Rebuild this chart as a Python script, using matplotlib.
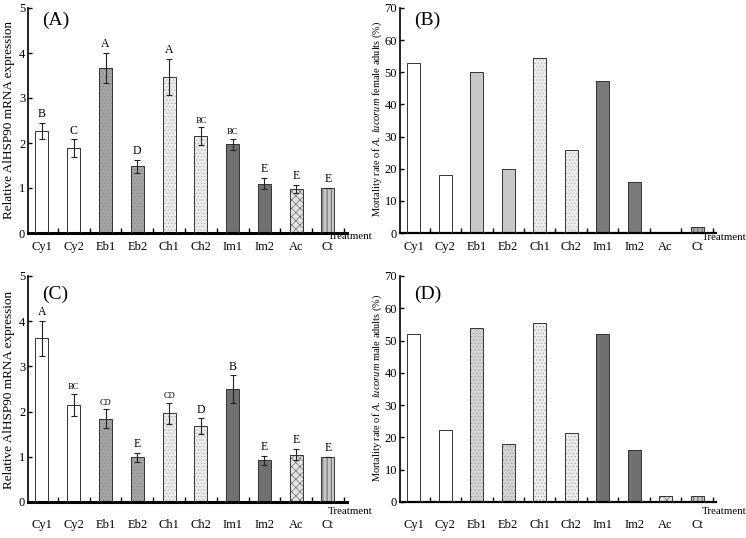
import numpy as np
import matplotlib
matplotlib.use('Agg')
import matplotlib.pyplot as plt

plt.rcParams['font.family'] = ['Liberation Serif', 'DejaVu Serif']
plt.rcParams['mathtext.fontset'] = 'custom'
plt.rcParams['mathtext.rm'] = 'Liberation Serif'
plt.rcParams['mathtext.it'] = 'Liberation Serif:italic'
plt.rcParams['hatch.linewidth'] = 0.5

treat = ['Cy1', 'Cy2', 'Eb1', 'Eb2', 'Ch1', 'Ch2', 'Im1', 'Im2', 'Ac', 'Ct']

# (A) female expression
expA = [2.27, 1.88, 3.67, 1.48, 3.47, 2.15, 1.97, 1.10, 0.98, 1.00]
errA = [0.18, 0.20, 0.34, 0.15, 0.40, 0.20, 0.13, 0.12, 0.09, 0.00]
letA = ['B', 'C', 'A', 'D', 'A', 'BC', 'BC', 'E', 'E', 'E']
# (B) female mortality
mortB = [53.0, 18.0, 50.0, 20.0, 54.5, 25.7, 47.3, 16.0, 0.0, 2.0]
# (C) male expression
expC = [3.62, 2.15, 1.84, 0.99, 1.96, 1.68, 2.50, 0.92, 1.05, 1.00]
errC = [0.38, 0.25, 0.21, 0.10, 0.24, 0.17, 0.30, 0.10, 0.12, 0.00]
letC = ['A', 'BC', 'CD', 'E', 'CD', 'D', 'B', 'E', 'E', 'E']
# (D) male mortality
mortD = [52.0, 22.3, 54.0, 18.0, 55.3, 21.5, 52.0, 16.0, 2.0, 2.0]

# fill colour, hatch, hatch colour
styleA = [('white', '', 'black'), ('white', '', 'black'),
          ('#a4a4a4', '.....', '#8a8a8a'), ('#a4a4a4', '.....', '#8a8a8a'),
          ('#ececec', '.....', '#b0b0b0'), ('#ececec', '.....', '#b0b0b0'),
          ('#707070', '', 'black'), ('#707070', '', 'black'),
          ('#e4e4e4', 'xxxx', '#707070'), ('#c8c8c8', '||||', '#404040')]
styleB = [('white', '', 'black'), ('white', '', 'black'),
          ('#c8c8c8', '', 'black'), ('#c8c8c8', '', 'black'),
          ('#ececec', '.....', '#b8b8b8'), ('#ececec', '.....', '#b8b8b8'),
          ('#7a7a7a', '', 'black'), ('#7a7a7a', '', 'black'),
          ('#e4e4e4', 'xxxx', '#707070'), ('#b0b0b0', '||||', '#404040')]
styleD = [('white', '', 'black'), ('white', '', 'black'),
          ('#d4d4d4', '.....', '#a0a0a0'), ('#d4d4d4', '.....', '#a0a0a0'),
          ('#ececec', '.....', '#a8a8a8'), ('#ececec', '.....', '#a8a8a8'),
          ('#707070', '', 'black'), ('#707070', '', 'black'),
          ('#e4e4e4', 'xxxx', '#707070'), ('#c8c8c8', '||||', '#404040')]

fig = plt.figure(figsize=(7.46, 5.38), dpi=100)
W, H = 746.0, 538.0


def make_ax(x0, x1, ytop, ybot):
    return fig.add_axes([x0 / W, 1 - ybot / H, (x1 - x0) / W, (ybot - ytop) / H])


def draw(ax, vals, styles, ymax, ystep, pad, spinew, err=None, lets=None, edgew=0.7):
    x = np.arange(len(vals))
    for i, v in enumerate(vals):
        fc, hatch, hc = styles[i]
        ax.bar(x[i], v, 0.41, color=fc, hatch=hatch, edgecolor=hc, linewidth=0, zorder=2)
        ax.bar(x[i], v, 0.41, fill=False, edgecolor='#333333', linewidth=edgew, zorder=3)
    if err is not None:
        ax.errorbar(x, vals, yerr=err, fmt='none', ecolor='#222222', elinewidth=0.8,
                    capsize=2.2, capthick=0.8, zorder=4)
        for i, (v, e, t) in enumerate(zip(vals, err, lets)):
            fs = 6 if len(t) > 1 else 8.5
            ax.text(x[i], v + e + 0.06, t, ha='center', va='bottom', fontsize=fs, zorder=5)
    ax.set_xlim(-0.44, 9.6)
    ax.set_ylim(0, ymax)
    ax.set_yticks(np.arange(0, ymax + 0.01, ystep))
    ax.set_xticks(x)
    ax.set_xticklabels(treat, fontsize=9)
    ax.set_xticks(np.arange(0.5, 10, 1.0), minor=True)
    ax.tick_params(axis='x', which='major', length=0, pad=pad)
    ax.tick_params(axis='x', which='minor', direction='in', length=3.5, width=1)
    ax.tick_params(axis='y', direction='in', length=3, width=1, labelsize=9, pad=2)
    for s in ['top', 'right']:
        ax.spines[s].set_visible(False)
    ax.spines['bottom'].set_linewidth(spinew)
    ax.spines['left'].set_linewidth(1.2)
    ax.set_facecolor('none')


axA = make_ax(28, 347, 8, 233)
draw(axA, expA, styleA, 5, 1, 5.5, 2.2, errA, letA)
axA.text(0.045, 0.985, '(A)', transform=axA.transAxes, fontsize=14, va='top')
fig.text(9 / W, 1 - 120 / H, 'Relative AlHSP90 mRNA expression', rotation=90,
         ha='center', va='center', fontsize=9.5)
fig.text(373 / W, 1 - 236 / H, 'Treatment', ha='right', va='center', fontsize=7.8)

axB = make_ax(400, 716, 8, 233)
draw(axB, mortB, styleB, 70, 10, 5.5, 1.6)
axB.text(0.045, 0.985, '(B)', transform=axB.transAxes, fontsize=14, va='top')
fig.text(377 / W, 1 - 119 / H, 'Mortality rate of $\\mathit{A.\\ lucorum}$ female adults (%)',
         rotation=90, ha='center', va='center', fontsize=7.5)
fig.text(746 / W, 1 - 238 / H, 'Treatment', ha='right', va='center', fontsize=7.8)

axC = make_ax(28, 347, 276, 502)
draw(axC, expC, styleA, 5, 1, 12, 2.2, errC, letC)
axC.text(0.045, 0.955, '(C)', transform=axC.transAxes, fontsize=14, va='top')
fig.text(9 / W, 1 - 390 / H, 'Relative AlHSP90 mRNA expression', rotation=90,
         ha='center', va='center', fontsize=9.5)
fig.text(373 / W, 1 - 512 / H, 'Treatment', ha='right', va='center', fontsize=7.8)

axD = make_ax(400, 716, 276, 502)
draw(axD, mortD, styleD, 70, 10, 12, 1.6)
axD.text(0.045, 0.955, '(D)', transform=axD.transAxes, fontsize=14, va='top')
fig.text(377 / W, 1 - 388 / H, 'Mortality rate of $\\mathit{A.\\ lucorum}$ male adults (%)',
         rotation=90, ha='center', va='center', fontsize=7.5)
fig.text(746 / W, 1 - 512 / H, 'Treatment', ha='right', va='center', fontsize=7.8)

fig.savefig('out.png', dpi=100)
